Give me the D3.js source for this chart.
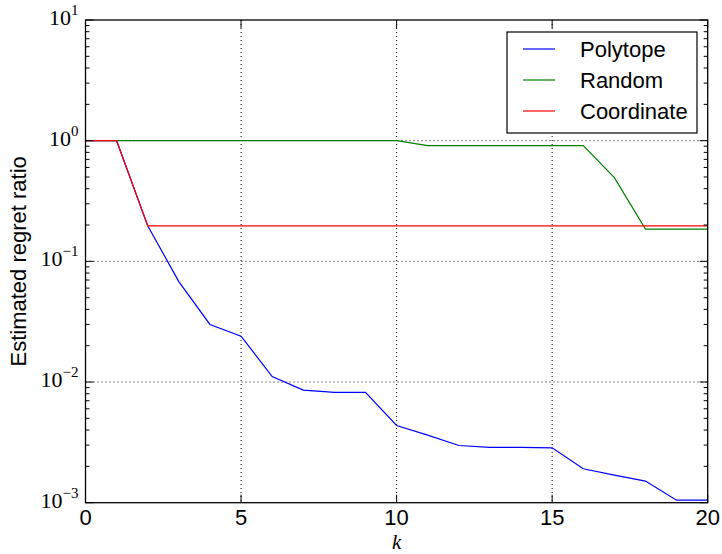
<!DOCTYPE html>
<html><head><meta charset="utf-8">
<script src="https://cdn.jsdelivr.net/npm/d3@7"></script>
<style>body{margin:0;background:#fff}svg{display:block}</style>
</head><body>
<svg id="c" width="722" height="554"></svg>
<script>
const ks = d3.range(0, 21);
const polytope = [1, 1, 0.197, 0.068, 0.030, 0.024, 0.0111, 0.00857, 0.0082, 0.0082, 0.00436, 0.00363, 0.00298, 0.00287, 0.00287, 0.00285, 0.00191, 0.00169, 0.00151, 0.00105, 0.00105];
const random = [1, 1, 1, 1, 1, 1, 1, 1, 1, 1, 1, 0.91, 0.91, 0.91, 0.91, 0.91, 0.91, 0.494, 0.185, 0.185, 0.185];
const coordinate = [1, 1, 0.197, 0.197, 0.197, 0.197, 0.197, 0.197, 0.197, 0.197, 0.197, 0.197, 0.197, 0.197, 0.197, 0.197, 0.197, 0.197, 0.197, 0.197, 0.197];
const seriesNames = ["Polytope", "Random", "Coordinate"];
const seriesColors = ["#0000ff", "#008000", "#ff0000"];
const xTicks = [0, 5, 10, 15, 20];
const yExps = [-3, -2, -1, 0, 1];

const L = 85.5, R = 707.7, T = 20, B = 502.7;
const svg = d3.select("#c");
const x = d3.scaleLinear().domain([0, 20]).range([L, R]);
const y = d3.scaleLog().domain([1e-3, 1e1]).range([B, T]);

// grid
const g = svg.append("g");
xTicks.forEach(v => {
  if (v > 0 && v < 20) g.append("line").attr("x1", x(v)).attr("x2", x(v)).attr("y1", T).attr("y2", B)
    .attr("stroke", "#000").attr("stroke-width", 1).attr("stroke-dasharray", "1,3");
});
yExps.forEach(e => {
  const v = Math.pow(10, e);
  if (e > -3 && e < 1) g.append("line").attr("x1", L).attr("x2", R).attr("y1", y(v)).attr("y2", y(v))
    .attr("stroke", "#000").attr("stroke-width", 1).attr("stroke-dasharray", "1,3");
});

// lines
const line = d3.line().x((d, i) => x(ks[i])).y(d => y(d));
[polytope, random, coordinate].forEach((s, i) => {
  svg.append("path").datum(s).attr("d", line).attr("fill", "none")
    .attr("stroke", seriesColors[i]).attr("stroke-width", 1.2);
});

// ticks
const tk = svg.append("g").attr("stroke", "#000").attr("stroke-width", 1);
xTicks.forEach(v => {
  tk.append("line").attr("x1", x(v)).attr("x2", x(v)).attr("y1", B).attr("y2", B - 8);
  tk.append("line").attr("x1", x(v)).attr("x2", x(v)).attr("y1", T).attr("y2", T + 8);
});
for (let e = -3; e <= 0; e++) {
  for (let m = 1; m <= 9; m++) {
    const v = m * Math.pow(10, e);
    const len = m === 1 ? 8 : 4;
    tk.append("line").attr("x1", L).attr("x2", L + len).attr("y1", y(v)).attr("y2", y(v));
    tk.append("line").attr("x1", R).attr("x2", R - len).attr("y1", y(v)).attr("y2", y(v));
  }
}
tk.append("line").attr("x1", L).attr("x2", L + 8).attr("y1", y(10)).attr("y2", y(10));
tk.append("line").attr("x1", R).attr("x2", R - 8).attr("y1", y(10)).attr("y2", y(10));

// frame
svg.append("rect").attr("x", L).attr("y", T).attr("width", R - L).attr("height", B - T)
  .attr("fill", "none").attr("stroke", "#000").attr("stroke-width", 1.3);

// x tick labels
xTicks.forEach(v => {
  svg.append("text").attr("x", x(v)).attr("y", 525).attr("text-anchor", "middle")
    .attr("font-family", "Liberation Sans, Arial, sans-serif").attr("font-size", 22).text(v);
});
// y tick labels
yExps.forEach(e => {
  const t = svg.append("text").attr("x", L - 7).attr("y", y(Math.pow(10, e)) + 5).attr("text-anchor", "end")
    .attr("font-family", "Liberation Serif, Times New Roman, serif").attr("font-size", 22);
  t.append("tspan").text("10");
  t.append("tspan").attr("dy", -10).attr("font-size", 15).text(e < 0 ? "\u2212" + (-e) : String(e));
});

// axis labels
svg.append("text").attr("x", x(10)).attr("y", 549).attr("text-anchor", "middle")
  .attr("font-family", "Liberation Serif, Times New Roman, serif").attr("font-style", "italic").attr("font-size", 21).text("k");
svg.append("text").attr("transform", `translate(26,${(T + B) / 2}) rotate(-90)`).attr("text-anchor", "middle")
  .attr("font-family", "Liberation Sans, Arial, sans-serif").attr("font-size", 22).text("Estimated regret ratio");

// legend
const lg = svg.append("g");
lg.append("rect").attr("x", 507).attr("y", 32).attr("width", 190).attr("height", 101)
  .attr("fill", "#fff").attr("stroke", "#000").attr("stroke-width", 1.2);
seriesNames.forEach((n, i) => {
  const yy = 49 + i * 31;
  lg.append("line").attr("x1", 523).attr("x2", 555).attr("y1", yy).attr("y2", yy)
    .attr("stroke", seriesColors[i]).attr("stroke-width", 1.2);
  lg.append("text").attr("x", 580).attr("y", yy + 8).attr("font-family", "Liberation Sans, Arial, sans-serif")
    .attr("font-size", 22).text(n);
});
</script>
</body></html>
